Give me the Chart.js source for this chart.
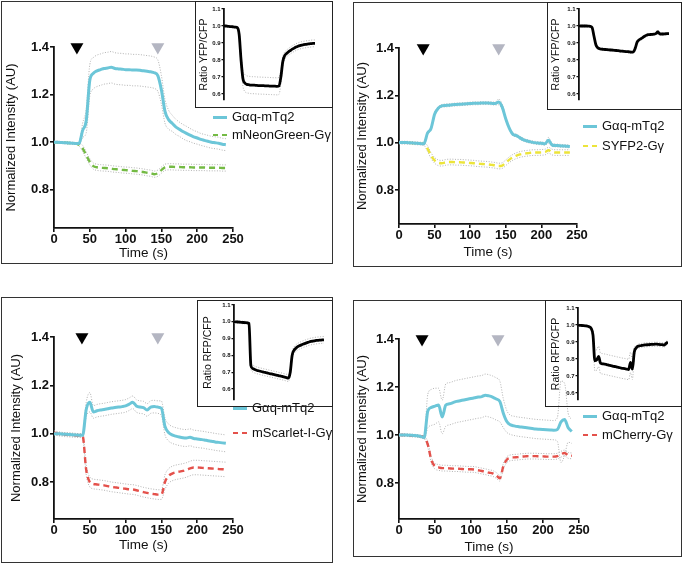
<!DOCTYPE html>
<html>
<head>
<meta charset="utf-8">
<script src="https://cdn.jsdelivr.net/npm/chart.js@4.4.1/dist/chart.umd.min.js"></script>
<style>
  body { margin: 0; background: #fff; width: 685px; height: 567px; position: relative; overflow: hidden;
         font-family: 'Liberation Sans', Arial, sans-serif; }
  .frame { position: absolute; border: 1.5px solid #333; box-sizing: border-box; }
  .inset { position: absolute; border: 1.5px solid #222; box-sizing: border-box; }
  canvas { position: absolute; }
  .legtxt { position: absolute; font-size: 13px; color: #111; white-space: nowrap; line-height: 14px; }
  .legline { position: absolute; width: 14px; }
</style>
</head>
<body>
<script>
// ---- data ----
const timeS = [0,5,10,15,20,25,30,35,40,45,50,55,60,65,70,75,80,85,90,95,100,105,110,115,120,
  125,130,135,140,145,150,155,160,165,170,175,180,185,190,195,200,205,210,215,220,225,230,235,240];
const xTicks = [0, 50, 100, 150, 200, 250];
const yTicks = [0.8, 1.0, 1.2, 1.4];
const insetTicks = [0.6, 0.7, 0.8, 0.9, 1.0, 1.1];

// top-left: Gaq-mTq2 / mNeonGreen-Ggamma
const tlNames = ['Gαq-mTq2', 'mNeonGreen-Gγ'];
const tlGaq = [1.0,1.0,0.999,0.998,0.997,0.996,0.995,0.995,
  1.05,1.09,1.26,1.29,1.30,1.305,1.31,1.312,
  1.315,1.31,1.308,1.307,1.305,1.305,1.303,1.303,
  1.302,1.30,1.298,1.296,1.292,1.28,1.22,1.13,
  1.095,1.08,1.065,1.055,1.045,1.037,1.03,1.023,
  1.018,1.012,1.008,1.004,1.0,0.998,0.996,0.992,0.99];
const tlGaqSem = [0.004,0.004,0.004,0.004,0.004,0.004,0.004,0.005,
  0.03,0.05,0.066,0.066,0.066,0.066,0.066,0.066,
  0.066,0.066,0.066,0.066,0.066,0.066,0.066,0.066,
  0.066,0.066,0.066,0.066,0.066,0.066,0.06,0.05,
  0.04,0.034,0.032,0.03,0.03,0.03,0.028,0.027,
  0.026,0.025,0.025,0.025,0.025,0.025,0.025,0.025,0.025];
const tlSecond = [1.0,1.0,0.999,0.998,0.997,0.996,0.995,0.99,
  0.974,0.946,0.918,0.9,0.895,0.893,0.892,0.891,
  0.889,0.887,0.886,0.884,0.883,0.882,0.88,0.879,
  0.877,0.875,0.872,0.87,0.866,0.87,0.883,0.895,
  0.897,0.897,0.896,0.896,0.895,0.895,0.895,0.894,
  0.894,0.894,0.894,0.893,0.893,0.893,0.893,0.892,0.892];
const tlSecondSem = [0.004,0.004,0.004,0.004,0.004,0.004,0.004,0.006,
  0.013,0.013,0.013,0.013,0.013,0.013,0.013,0.013,
  0.013,0.013,0.013,0.013,0.013,0.013,0.013,0.013,
  0.013,0.013,0.013,0.013,0.013,0.013,0.013,0.013,
  0.013,0.013,0.013,0.013,0.013,0.013,0.013,0.013,
  0.013,0.013,0.013,0.013,0.013,0.013,0.013,0.013,0.013];
const tlRatio = [1.0,1.0,0.998,0.997,0.996,0.995,0.993,0.99,
  0.95,0.80,0.69,0.665,0.657,0.655,0.653,0.652,
  0.652,0.651,0.65,0.65,0.649,0.649,0.648,0.648,
  0.647,0.647,0.646,0.646,0.645,0.648,0.70,0.79,
  0.825,0.838,0.848,0.856,0.864,0.87,0.876,0.881,
  0.885,0.888,0.89,0.892,0.894,0.895,0.897,0.898,0.898];
const tlRatioSem = [0.004,0.004,0.004,0.004,0.004,0.004,0.004,0.006,
  0.02,0.035,0.045,0.05,0.05,0.05,0.05,0.05,
  0.05,0.05,0.05,0.05,0.05,0.05,0.05,0.05,
  0.05,0.05,0.05,0.05,0.05,0.05,0.04,0.03,
  0.022,0.02,0.02,0.02,0.02,0.02,0.02,0.02,
  0.02,0.02,0.02,0.02,0.02,0.02,0.02,0.02,0.02];

// top-right: Gaq-mTq2 / SYFP2-Ggamma
const trNames = ['Gαq-mTq2', 'SYFP2-Gγ'];
const trGaq = [1.0,1.0,1.0,0.999,0.998,0.997,0.996,0.995,
  1.04,1.06,1.12,1.145,1.155,1.157,1.158,1.16,
  1.161,1.162,1.163,1.164,1.165,1.166,1.166,1.167,
  1.167,1.167,1.166,1.165,1.172,1.15,1.10,1.06,
  1.035,1.03,1.02,1.012,1.007,1.003,1.0,0.998,
  0.997,0.995,1.01,0.99,0.988,0.987,0.986,0.985,0.984];
const trGaqSem = [0.006,0.006,0.006,0.006,0.006,0.006,0.006,0.006,
  0.006,0.006,0.006,0.006,0.006,0.006,0.006,0.006,
  0.006,0.006,0.006,0.006,0.006,0.006,0.006,0.006,
  0.006,0.006,0.006,0.006,0.012,0.012,0.006,0.006,
  0.006,0.006,0.006,0.006,0.006,0.006,0.006,0.006,
  0.006,0.006,0.012,0.006,0.006,0.006,0.006,0.006,0.006];
const trSecond = [1.0,1.0,1.0,0.999,0.998,0.997,0.996,0.995,
  0.975,0.945,0.925,0.915,0.913,0.916,0.918,0.918,
  0.917,0.917,0.916,0.915,0.914,0.913,0.911,0.91,
  0.909,0.908,0.906,0.904,0.901,0.903,0.915,0.928,
  0.938,0.945,0.95,0.953,0.955,0.957,0.958,0.958,
  0.959,0.96,0.968,0.96,0.958,0.958,0.958,0.958,0.958];
const trSecondSem = [0.004,0.004,0.004,0.004,0.004,0.004,0.004,0.006,
  0.012,0.012,0.012,0.012,0.012,0.012,0.012,0.012,
  0.012,0.012,0.012,0.012,0.012,0.012,0.012,0.012,
  0.012,0.012,0.012,0.012,0.012,0.012,0.012,0.012,
  0.012,0.012,0.012,0.012,0.012,0.012,0.012,0.012,
  0.012,0.012,0.012,0.012,0.012,0.012,0.012,0.012,0.012];
const trRatio = [1.0,1.0,1.0,1.0,1.0,0.999,0.998,0.99,
  0.94,0.89,0.872,0.866,0.864,0.863,0.862,0.861,
  0.86,0.859,0.858,0.857,0.856,0.855,0.853,0.852,
  0.851,0.85,0.849,0.848,0.846,0.848,0.87,0.905,
  0.918,0.925,0.932,0.94,0.946,0.949,0.95,0.951,
  0.952,0.955,0.965,0.955,0.953,0.953,0.954,0.955,0.955];
const trRatioSem = [0.006,0.006,0.006,0.006,0.006,0.006,0.006,0.006,
  0.006,0.006,0.006,0.006,0.006,0.006,0.006,0.006,
  0.006,0.006,0.006,0.006,0.006,0.006,0.006,0.006,
  0.006,0.006,0.006,0.006,0.006,0.006,0.006,0.006,
  0.006,0.006,0.006,0.006,0.006,0.006,0.006,0.006,
  0.006,0.006,0.012,0.006,0.006,0.006,0.006,0.006,0.006];

// bottom-left: Gaq-mTq2 / mScarlet-I-Ggamma
const blNames = ['Gαq-mTq2', 'mScarlet-I-Gγ'];
const blGaq = [1.0,1.0,0.999,0.998,0.997,0.996,0.995,0.994,
  0.993,1.10,1.13,1.09,1.095,1.098,1.10,1.103,
  1.106,1.108,1.11,1.112,1.115,1.122,1.13,1.115,
  1.11,1.108,1.098,1.11,1.112,1.11,1.105,1.03,
  1.005,0.995,0.99,0.986,0.983,0.982,0.985,0.98,
  0.978,0.976,0.974,0.971,0.969,0.966,0.964,0.962,0.96];
const blGaqSem = [0.006,0.006,0.006,0.006,0.006,0.006,0.006,0.006,
  0.006,0.03,0.04,0.026,0.026,0.026,0.026,0.026,
  0.026,0.026,0.026,0.026,0.026,0.026,0.026,0.026,
  0.026,0.026,0.026,0.026,0.026,0.026,0.03,0.035,
  0.035,0.035,0.035,0.035,0.035,0.035,0.035,0.035,
  0.035,0.035,0.035,0.035,0.035,0.035,0.035,0.035,0.035];
const blSecond = [1.005,1.0,0.998,0.996,0.995,0.994,0.993,0.992,
  0.99,0.85,0.80,0.792,0.79,0.788,0.786,0.783,
  0.78,0.778,0.776,0.774,0.772,0.77,0.769,0.766,
  0.762,0.758,0.755,0.752,0.75,0.748,0.748,0.80,
  0.825,0.835,0.84,0.843,0.846,0.85,0.856,0.86,
  0.86,0.859,0.858,0.857,0.856,0.855,0.854,0.853,0.852];
const blSecondSem = [0.008,0.008,0.008,0.008,0.008,0.008,0.008,0.008,
  0.008,0.02,0.02,0.02,0.02,0.02,0.02,0.02,
  0.02,0.02,0.02,0.02,0.02,0.02,0.02,0.02,
  0.02,0.02,0.02,0.02,0.02,0.02,0.02,0.03,
  0.03,0.03,0.03,0.03,0.03,0.03,0.03,0.03,
  0.03,0.03,0.03,0.03,0.03,0.03,0.03,0.03,0.03];
const blRatio = [1.0,1.0,0.999,0.998,0.997,0.996,0.995,0.994,
  0.99,0.74,0.722,0.716,0.712,0.709,0.706,0.703,
  0.70,0.698,0.695,0.692,0.69,0.687,0.685,0.682,
  0.679,0.677,0.674,0.671,0.668,0.665,0.70,0.80,
  0.83,0.843,0.852,0.858,0.863,0.868,0.872,0.876,
  0.88,0.883,0.885,0.887,0.889,0.89,0.891,0.892,0.893];
const blRatioSem = [0.008,0.008,0.008,0.008,0.008,0.008,0.008,0.008,
  0.008,0.02,0.02,0.02,0.02,0.02,0.02,0.02,
  0.02,0.02,0.02,0.02,0.02,0.02,0.02,0.02,
  0.02,0.02,0.02,0.02,0.02,0.02,0.02,0.02,
  0.02,0.02,0.02,0.02,0.02,0.02,0.02,0.02,
  0.02,0.02,0.02,0.02,0.02,0.02,0.02,0.02,0.02];

// bottom-right: Gaq-mTq2 / mCherry-Ggamma
const brNames = ['Gαq-mTq2', 'mCherry-Gγ'];
const brGaq = [1.0,1.0,1.0,0.999,0.998,0.997,0.994,0.99,
  1.10,1.115,1.12,1.125,1.075,1.125,1.13,1.135,
  1.14,1.143,1.146,1.149,1.152,1.155,1.158,1.16,
  1.166,1.163,1.158,1.15,1.14,1.09,1.055,1.042,
  1.038,1.035,1.033,1.031,1.029,1.027,1.025,1.024,
  1.023,1.022,1.021,1.02,1.023,1.055,1.065,1.03,1.015];
const brGaqSem = [0.005,0.005,0.005,0.005,0.005,0.005,0.005,0.006,
  0.07,0.075,0.075,0.07,0.07,0.088,0.088,0.088,
  0.088,0.088,0.088,0.088,0.088,0.088,0.088,0.088,
  0.088,0.088,0.088,0.088,0.085,0.06,0.045,0.04,
  0.04,0.04,0.04,0.04,0.04,0.04,0.04,0.04,
  0.04,0.04,0.04,0.04,0.05,0.17,0.15,0.06,0.05];
const brSecond = [1.0,1.0,0.999,0.998,0.997,0.996,0.994,0.99,
  0.96,0.895,0.87,0.865,0.862,0.862,0.861,0.86,
  0.86,0.859,0.858,0.857,0.857,0.856,0.853,0.85,
  0.847,0.843,0.84,0.832,0.82,0.87,0.898,0.905,
  0.907,0.908,0.91,0.911,0.912,0.912,0.912,0.911,
  0.911,0.91,0.91,0.91,0.912,0.92,0.925,0.915,0.913];
const brSecondSem = [0.005,0.005,0.005,0.005,0.005,0.005,0.005,0.005,
  0.012,0.012,0.012,0.012,0.012,0.012,0.012,0.012,
  0.012,0.012,0.012,0.012,0.012,0.012,0.012,0.012,
  0.012,0.012,0.012,0.012,0.012,0.012,0.012,0.012,
  0.012,0.012,0.012,0.012,0.012,0.012,0.012,0.012,
  0.012,0.012,0.012,0.012,0.012,0.012,0.012,0.012,0.012];
const brRatio = [1.0,0.998,0.997,0.996,0.995,0.994,0.99,0.98,
  0.94,0.79,0.795,0.815,0.775,0.772,0.77,0.768,
  0.765,0.762,0.76,0.757,0.755,0.752,0.75,0.747,
  0.745,0.743,0.741,0.738,0.78,0.74,0.84,0.865,
  0.875,0.878,0.88,0.882,0.883,0.884,0.885,0.886,
  0.886,0.887,0.887,0.886,0.885,0.884,0.882,0.892,0.90];
const brRatioSem = [0.005,0.005,0.005,0.005,0.005,0.005,0.005,0.005,
  0.03,0.06,0.06,0.06,0.06,0.06,0.06,0.06,
  0.06,0.06,0.06,0.06,0.06,0.06,0.06,0.06,
  0.06,0.06,0.06,0.06,0.06,0.06,0.03,0.012,
  0.012,0.012,0.012,0.012,0.012,0.012,0.012,0.012,
  0.012,0.012,0.012,0.012,0.012,0.012,0.012,0.012,0.012];

// stimulus arrows (time, s): agonist on, antagonist
const tlArrows = [32, 145];
const trArrows = [34, 140];
const blArrows = [39, 145];
const brArrows = [32, 137.5];

// ---- drawing ----
const FONT = "'Liberation Sans', Arial, sans-serif";
const CYAN = '#6cc6d8';
const BAND = '#a0a0a0';
Chart.defaults.font.family = FONT;
Chart.defaults.elements.point.radius = 0;
Chart.defaults.elements.line.cubicInterpolationMode = 'monotone';

function bandLine(mean, sem, sign) {
  return mean.map((v, i) => v + sign * sem[i]);
}
function dotted(vals) {
  return { data: vals, borderColor: BAND, borderWidth: 0.8, borderDash: [1, 1.6] };
}
function addEl(tag, cls, css) {
  const el = document.createElement(tag);
  if (cls) el.className = cls;
  Object.assign(el.style, css || {});
  document.body.appendChild(el);
  return el;
}
function px(v) { return v + 'px'; }

function drawMain(p) {
  const f = p.frame, a = p.plot;
  addEl('div', 'frame', { left: px(f.x), top: px(f.y), width: px(f.w), height: px(f.h) });
  const cv = addEl('canvas', null, { left: px(f.x), top: px(f.y) });
  cv.width = f.w; cv.height = f.h;
  const axisGrid = { drawOnChartArea: false, drawTicks: true, tickLength: 4, color: '#111', lineWidth: 1.6 };
  const tickFont = { family: FONT, size: 13, weight: 'bold' };
  new Chart(cv, {
    type: 'line',
    data: {
      labels: timeS,
      datasets: [
        { data: p.arrows.map(t => ({ x: t, y: 1.4 })), showLine: false, pointStyle: 'triangle',
          pointRotation: 180, pointRadius: 7.5, pointBorderWidth: 0,
          pointBackgroundColor: ['#000', '#b4b6c2'], clip: false },
        { data: p.gaq, borderColor: CYAN, borderWidth: 3 },
        { data: p.second, borderColor: p.color, borderWidth: 2.4, borderDash: [6, 4] },
        dotted(bandLine(p.gaq, p.gaqSem, 1)),
        dotted(bandLine(p.gaq, p.gaqSem, -1)),
        dotted(bandLine(p.second, p.secondSem, 1)),
        dotted(bandLine(p.second, p.secondSem, -1))
      ]
    },
    options: {
      responsive: false, animation: false,
      layout: { padding: { left: 0, top: a.top - f.y, right: f.x + f.w - a.right, bottom: 0 } },
      plugins: { legend: { display: false }, tooltip: { enabled: false } },
      scales: {
        x: {
          type: 'linear', min: 0, max: 250,
          afterBuildTicks: s => { s.ticks = xTicks.map(v => ({ value: v })); },
          afterFit: s => { s.height = f.y + f.h - a.bottom; },
          ticks: { font: tickFont, color: '#111', padding: 0, maxRotation: 0, autoSkip: false },
          grid: axisGrid,
          border: { color: '#111', width: 1.8 },
          title: { display: true, text: 'Time (s)', color: '#111', font: { family: FONT, size: 13.5 },
                   padding: { top: 0, bottom: p.xTitlePad } }
        },
        y: {
          min: p.yMin, max: 1.4,
          afterBuildTicks: s => { s.ticks = yTicks.map(v => ({ value: v })); },
          afterFit: s => { s.width = a.left - f.x; },
          ticks: { font: tickFont, color: '#111', padding: 1, autoSkip: false, callback: v => v.toFixed(1) },
          grid: axisGrid,
          border: { color: '#111', width: 1.8 },
          title: { display: true, text: 'Normalized Intensity (AU)', color: '#111',
                   font: { family: FONT, size: 13 }, padding: { top: p.yTitlePad, bottom: 0 } }
        }
      }
    }
  });

  // legend
  const lg = p.legend;
  p.names.forEach((name, i) => {
    const y = lg.y[i];
    if (i === 0) {
      addEl('div', 'legline', { left: px(lg.x), top: px(y - 1.5), height: '3px', background: CYAN });
    } else {
      addEl('div', 'legline', { left: px(lg.x), top: px(y - 1.2), height: '2.4px',
        background: `linear-gradient(to right, ${p.color} 0 5px, transparent 5px 9px, ${p.color} 9px 14px)` });
    }
    const t = addEl('div', 'legtxt', { left: px(lg.x + 19), top: px(y - 7) });
    t.textContent = name;
  });
}

function drawInset(p) {
  const b = p.box, a = p.plot;
  addEl('div', 'inset', { left: px(b.x), top: px(b.y), width: px(b.w), height: px(b.h) });
  const cv = addEl('canvas', null, { left: px(b.x), top: px(b.y) });
  cv.width = b.w; cv.height = b.h;
  new Chart(cv, {
    type: 'line',
    data: {
      labels: timeS,
      datasets: [
        { data: p.ratio, borderColor: '#000', borderWidth: 2.8 },
        dotted(bandLine(p.ratio, p.sem, 1)),
        dotted(bandLine(p.ratio, p.sem, -1))
      ]
    },
    options: {
      responsive: false, animation: false,
      layout: { padding: { left: 0, top: a.top - b.y, right: b.x + b.w - a.right, bottom: b.y + b.h - a.bottom } },
      plugins: { legend: { display: false }, tooltip: { enabled: false } },
      scales: {
        x: { type: 'linear', min: 0, max: 240, display: false },
        y: {
          min: p.yMin, max: 1.1,
          afterBuildTicks: s => { s.ticks = insetTicks.map(v => ({ value: v })); },
          afterFit: s => { s.width = a.left - b.x; },
          ticks: { font: { family: FONT, size: 6, weight: 'bold' }, color: '#111', padding: 1,
                   autoSkip: false, callback: v => v.toFixed(1) },
          grid: { drawOnChartArea: false, drawTicks: true, tickLength: 2.5, color: '#111', lineWidth: 1.2 },
          border: { color: '#111', width: 1.8 },
          title: { display: true, text: p.title, color: '#111', font: { family: FONT, size: 10.5 },
                   padding: { top: p.titlePad, bottom: 0 } }
        }
      }
    }
  });
}

const panels = [
  { frame: { x: 1, y: 1, w: 332, h: 263 }, plot: { left: 54, right: 233, top: 47, bottom: 228 }, yMin: 0.64,
    gaq: tlGaq, gaqSem: tlGaqSem, second: tlSecond, secondSem: tlSecondSem, color: '#74ba44',
    arrows: tlArrows, names: tlNames, legend: { x: 213, y: [117, 135] }, xTitlePad: 3, yTitlePad: 3 },
  { frame: { x: 353, y: 2, w: 329, h: 265 }, plot: { left: 399, right: 577, top: 48, bottom: 224 }, yMin: 0.656,
    gaq: trGaq, gaqSem: trGaqSem, second: trSecond, secondSem: trSecondSem, color: '#ece43a',
    arrows: trArrows, names: trNames, legend: { x: 583, y: [126, 146] }, xTitlePad: 7, yTitlePad: 1.5 },
  { frame: { x: 1, y: 297, w: 332, h: 266 }, plot: { left: 54, right: 233, top: 337, bottom: 519 }, yMin: 0.647,
    gaq: blGaq, gaqSem: blGaqSem, second: blSecond, secondSem: blSecondSem, color: '#e4514b',
    arrows: blArrows, names: blNames, legend: { x: 233, y: [408, 433] }, xTitlePad: 10, yTitlePad: 8 },
  { frame: { x: 353, y: 300, w: 329, h: 257 }, plot: { left: 399, right: 579, top: 339, bottom: 519 }, yMin: 0.65,
    gaq: brGaq, gaqSem: brGaqSem, second: brSecond, secondSem: brSecondSem, color: '#e4514b',
    arrows: brArrows, names: brNames, legend: { x: 583, y: [416, 435] }, xTitlePad: 2, yTitlePad: 1.5 }
];
const insets = [
  { box: { x: 195, y: 1, w: 138, h: 107 }, plot: { left: 224, right: 315, top: 9, bottom: 100 }, yMin: 0.565,
    ratio: tlRatio, sem: tlRatioSem, title: 'Ratio YFP/CFP', titlePad: 2.7 },
  { box: { x: 547, y: 2, w: 135, h: 108 }, plot: { left: 579, right: 669, top: 9, bottom: 100 }, yMin: 0.565,
    ratio: trRatio, sem: trRatioSem, title: 'Ratio YFP/CFP', titlePad: 2.7 },
  { box: { x: 197, y: 300, w: 136, h: 107 }, plot: { left: 234, right: 324, top: 305, bottom: 400 }, yMin: 0.535,
    ratio: blRatio, sem: blRatioSem, title: 'Ratio RFP/CFP', titlePad: 4.7 },
  { box: { x: 545, y: 300, w: 137, h: 107 }, plot: { left: 578, right: 668, top: 308, bottom: 400 }, yMin: 0.559,
    ratio: brRatio, sem: brRatioSem, title: 'Ratio RFP/CFP', titlePad: 4.7 }
];

panels.forEach(drawMain);
insets.forEach(drawInset);
</script>
</body>
</html>
